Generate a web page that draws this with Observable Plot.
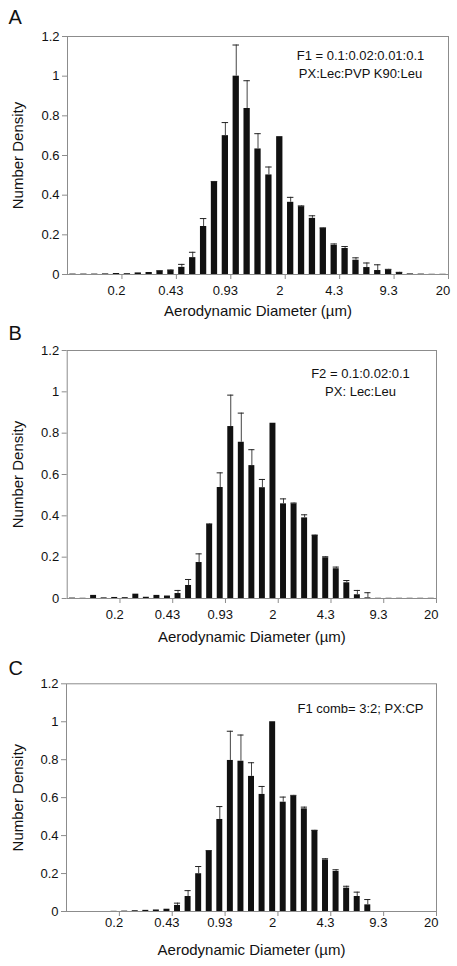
<!DOCTYPE html>
<html><head><meta charset="utf-8">
<script src="https://cdn.jsdelivr.net/npm/d3@7"></script>
<script src="https://cdn.jsdelivr.net/npm/@observablehq/plot@0.6"></script>
<style>
html,body{margin:0;padding:0;background:#fff;}
body{width:457px;height:966px;position:relative;overflow:hidden;font-family:"Liberation Sans",Arial,sans-serif;}
.panel{position:absolute;left:0;}
</style></head><body>
<div id="pA" class="panel" style="top:0px"></div>
<div id="pB" class="panel" style="top:320px"></div>
<div id="pC" class="panel" style="top:645px"></div>
<script>
// Aerodynamic diameter bin edges (µm), 15 bins per decade
const binEdges = [0.0928, 0.1082, 0.1262, 0.1471, 0.1715, 0.2000, 0.2332, 0.2719, 0.3170, 0.3696,
  0.4309, 0.5024, 0.5858, 0.6830, 0.7963, 0.9283, 1.0823, 1.2619, 1.4713, 1.7154,
  2.0000, 2.3318, 2.7187, 3.1698, 3.6957, 4.3089, 5.0238, 5.8573, 6.8291, 7.9621,
  9.2832, 10.823, 12.619, 14.713, 17.154, 20.000];
const tickEdges = [0.2, 0.4309, 0.9283, 2.0, 4.3089, 9.2832, 20.0];
const tickLabels = ["0.2", "0.43", "0.93", "2", "4.3", "9.3", "20"];
const labelBins = [4, 9, 14, 19, 24, 29, 34];
const yTicks = [0, 0.2, 0.4, 0.6, 0.8, 1, 1.2];

// Panel A: F1 = 0.1:0.02:0.01:0.1
const densityA = [0.002, 0.002, 0.002, 0.003, 0.005, 0.004, 0.008, 0.010, 0.017, 0.020,
  0.036, 0.085, 0.242, 0.465, 0.700, 1.000, 0.837, 0.633, 0.502, 0.695,
  0.364, 0.342, 0.283, 0.233, 0.147, 0.131, 0.072, 0.035, 0.020, 0.023,
  0.010, 0.003, 0.002, 0.001, 0.001];
const errA = [0, 0, 0, 0, 0, 0, 0, 0, 0.002, 0.003,
  0.015, 0.027, 0.040, 0.004, 0.066, 0.157, 0.140, 0.077, 0.040, 0,
  0.025, 0.004, 0.013, 0.002, 0.007, 0.010, 0.012, 0.023, 0.029, 0.003,
  0.001, 0, 0, 0, 0];
// Panel B: F2 = 0.1:0.02:0.1
const densityB = [0.002, 0.001, 0.015, 0.003, 0.005, 0.004, 0.021, 0.006, 0.015, 0.012,
  0.024, 0.063, 0.174, 0.358, 0.537, 0.832, 0.756, 0.643, 0.536, 0.848,
  0.458, 0.458, 0.390, 0.305, 0.197, 0.144, 0.076, 0.018, 0.003, 0.001,
  0.001, 0.001, 0.001, 0.001, 0.001];
const errB = [0, 0, 0, 0, 0, 0, 0, 0, 0, 0,
  0.015, 0.029, 0.042, 0.003, 0.071, 0.152, 0.141, 0.077, 0.040, 0,
  0.024, 0.004, 0.015, 0.002, 0.005, 0.008, 0.011, 0.021, 0.025, 0,
  0, 0, 0, 0, 0];
// Panel C: F1 comb = 3:2
const densityC = [0, 0, 0, 0, 0.001, 0.002, 0.004, 0.006, 0.008, 0.012,
  0.032, 0.079, 0.199, 0.318, 0.485, 0.796, 0.792, 0.712, 0.617, 1.000,
  0.576, 0.608, 0.541, 0.427, 0.272, 0.211, 0.123, 0.079, 0.035, 0,
  0, 0, 0, 0, 0];
const errC = [0, 0, 0, 0, 0, 0, 0, 0, 0, 0,
  0.012, 0.031, 0.038, 0.003, 0.068, 0.154, 0.138, 0.072, 0.042, 0,
  0.027, 0.004, 0.009, 0.001, 0.006, 0.009, 0.010, 0.023, 0.028, 0,
  0, 0, 0, 0, 0];

const panels = [
  {id: "pA", letter: "A", values: densityA, errors: errA, note: "F1 = 0.1:0.02:0.01:0.1\nPX:Lec:PVP K90:Leu",
   height: 320, mt: 36, mb: 46, ml: 67, mr: 9, letterDy: -19, noteDx: -88, noteDy: 26.5, labelDy: 16, titleDy: 37},
  {id: "pB", letter: "B", values: densityB, errors: errB, note: "F2 = 0.1:0.02:0.1\nPX: Lec:Leu",
   height: 325, mt: 30, mb: 47, ml: 66.7, mr: 21, letterDy: -16.5, noteDx: -76, noteDy: 30.8, labelDy: 16, titleDy: 39},
  {id: "pC", letter: "C", values: densityC, errors: errC, note: "F1 comb= 3:2; PX:CP",
   height: 321, mt: 38.3, mb: 55, ml: 66, mr: 21, letterDy: -15.3, noteDx: -76, noteDy: 23.4, labelDy: 11, titleDy: 39}
];

for (const p of panels) {
  const rows = p.values.map((v, i) => {
    const lo = binEdges[i], hi = binEdges[i + 1];
    return {lo, hi, mid: Math.sqrt(lo * hi), v, e: p.errors[i], top: v + p.errors[i]};
  });
  const errRows = rows.filter(d => d.e > 0);
  const labelRows = labelBins.map((b, k) => ({pos: Math.sqrt(binEdges[b] * binEdges[b + 1]), label: tickLabels[k]}));
  const chart = Plot.plot({
    width: 457,
    height: p.height,
    marginTop: p.mt,
    marginBottom: p.mb,
    marginLeft: p.ml,
    marginRight: p.mr,
    style: {fontFamily: "'Liberation Sans', Arial, sans-serif", fontSize: "13px", color: "#111", background: "#fff"},
    x: {type: "log", domain: [binEdges[0], binEdges[binEdges.length - 1]]},
    y: {domain: [0, 1.2]},
    marks: [
      Plot.frame({stroke: "#8c8c8c"}),
      Plot.rectY(rows, {x1: "lo", x2: "hi", y: "v", insetLeft: 2.3, insetRight: 2.3, fill: "#111"}),
      Plot.ruleX(errRows, {x: "mid", y1: "v", y2: "top", stroke: "#444", strokeWidth: 1}),
      Plot.ruleY(errRows, {y: "top", x1: "lo", x2: "hi", insetLeft: 2.2, insetRight: 2.2, stroke: "#222", strokeWidth: 1}),
      Plot.axisY({ticks: yTicks, tickSize: 5, tickPadding: 3, tickFormat: d => String(d), label: null, stroke: "#8c8c8c", fill: "#111", fontSize: 13}),
      Plot.axisX({ticks: tickEdges, tickSize: 5, tickFormat: () => "", label: null, stroke: "#8c8c8c"}),
      Plot.text(labelRows, {x: "pos", text: "label", frameAnchor: "bottom", dy: p.labelDy, lineAnchor: "middle", fontSize: 13, fill: "#111"}),
      Plot.text([p.letter], {text: d => d, frameAnchor: "top-left", dx: 8 - p.ml, dy: p.letterDy, textAnchor: "start", lineAnchor: "middle", fontSize: 20, fill: "#111"}),
      Plot.text(["Number Density"], {text: d => d, frameAnchor: "left", dx: 17.5 - p.ml, rotate: -90, textAnchor: "middle", lineAnchor: "middle", fontSize: 15, fill: "#111"}),
      Plot.text(["Aerodynamic Diameter (µm)"], {text: d => d, frameAnchor: "bottom", dy: p.titleDy, textAnchor: "middle", lineAnchor: "middle", fontSize: 15, fill: "#111"}),
      Plot.text([p.note], {text: d => d, frameAnchor: "top-right", dx: p.noteDx, dy: p.noteDy, textAnchor: "middle", lineAnchor: "middle", lineHeight: 1.42, fontSize: 13, fill: "#111"})
    ]
  });
  document.getElementById(p.id).appendChild(chart);
}
</script>
</body></html>
